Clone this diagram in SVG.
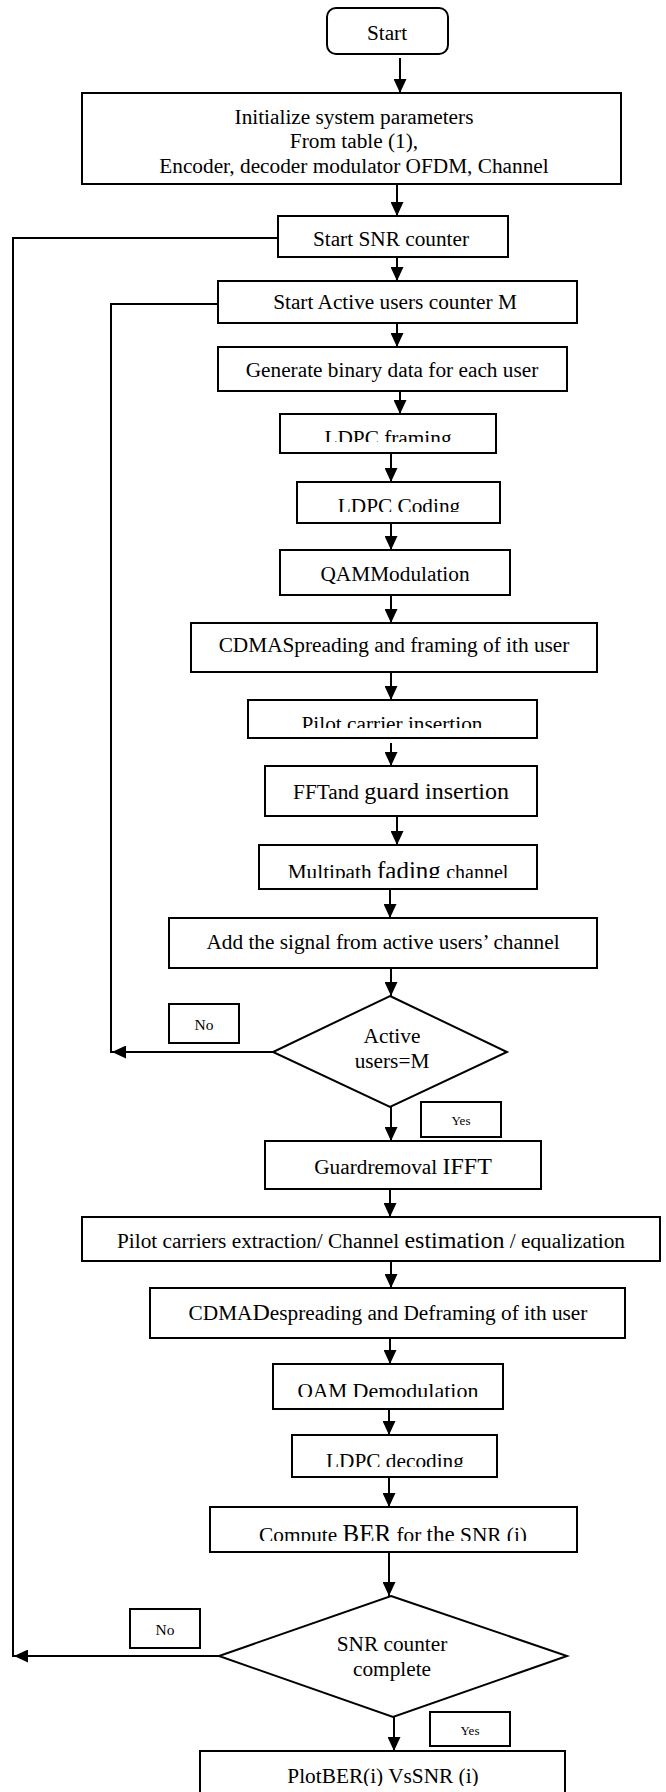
<svg xmlns="http://www.w3.org/2000/svg" width="666" height="1792" viewBox="0 0 666 1792">
<style>
.b{fill:#fff;stroke:#000;stroke-width:2}
.t{font-family:"Liberation Serif","Times New Roman",serif;font-size:21.3px;fill:#000;text-anchor:middle}
.s{font-size:15.5px}
.y{font-size:13px}
.c{fill:none;stroke:#000;stroke-width:2}
</style>
<defs>
<marker id="ah" markerUnits="userSpaceOnUse" markerWidth="14" markerHeight="13" refX="14" refY="6.5" orient="auto">
<path d="M0,0 L14,6.5 L0,13 z" fill="#000"/>
</marker>
<clipPath id="k1"><rect x="270" y="410" width="240" height="32"/></clipPath>
<clipPath id="k2"><rect x="290" y="478" width="220" height="34"/></clipPath>
<clipPath id="k3"><rect x="240" y="696" width="300" height="32"/></clipPath>
<clipPath id="k4"><rect x="250" y="840" width="290" height="38"/></clipPath>
<clipPath id="k5"><rect x="80" y="1214" width="590" height="37"/></clipPath>
<clipPath id="k6"><rect x="270" y="1360" width="240" height="37"/></clipPath>
<clipPath id="k7"><rect x="290" y="1430" width="210" height="37"/></clipPath>
<clipPath id="k8"><rect x="205" y="1504" width="375" height="37"/></clipPath>
<clipPath id="k9"><rect x="195" y="1748" width="375" height="38"/></clipPath>
</defs>

<g id="connectors">
<line class="c" x1="400" y1="58" x2="400" y2="93" marker-end="url(#ah)"/>
<line class="c" x1="397" y1="184" x2="397" y2="216" marker-end="url(#ah)"/>
<polyline class="c" points="278,238 13,238 13,1657"/>
<line class="c" x1="397" y1="257" x2="397" y2="281" marker-end="url(#ah)"/>
<polyline class="c" points="218,304 111,304 111,1053"/>
<line class="c" x1="397" y1="323" x2="397" y2="347" marker-end="url(#ah)"/>
<line class="c" x1="400" y1="389" x2="400" y2="414" marker-end="url(#ah)"/>
<line class="c" x1="391" y1="453" x2="391" y2="482" marker-end="url(#ah)"/>
<line class="c" x1="391" y1="523" x2="391" y2="550" marker-end="url(#ah)"/>
<line class="c" x1="391" y1="595" x2="391" y2="623" marker-end="url(#ah)"/>
<line class="c" x1="391" y1="672" x2="391" y2="700" marker-end="url(#ah)"/>
<line class="c" x1="391" y1="743" x2="391" y2="766" marker-end="url(#ah)"/>
<line class="c" x1="397" y1="816" x2="397" y2="845" marker-end="url(#ah)"/>
<line class="c" x1="390" y1="889" x2="390" y2="918" marker-end="url(#ah)"/>
<line class="c" x1="391" y1="968" x2="391" y2="996" marker-end="url(#ah)"/>
<line class="c" x1="273" y1="1052" x2="112" y2="1052" marker-end="url(#ah)"/>
<line class="c" x1="391" y1="1107" x2="391" y2="1141" marker-end="url(#ah)"/>
<line class="c" x1="390" y1="1189" x2="390" y2="1217" marker-end="url(#ah)"/>
<line class="c" x1="391" y1="1261" x2="391" y2="1288" marker-end="url(#ah)"/>
<line class="c" x1="390" y1="1338" x2="390" y2="1364" marker-end="url(#ah)"/>
<line class="c" x1="389" y1="1409" x2="389" y2="1435" marker-end="url(#ah)"/>
<line class="c" x1="389" y1="1477" x2="389" y2="1507" marker-end="url(#ah)"/>
<line class="c" x1="389" y1="1549" x2="389" y2="1596" marker-end="url(#ah)"/>
<line class="c" x1="219" y1="1656" x2="14" y2="1656" marker-end="url(#ah)"/>
<line class="c" x1="394" y1="1717" x2="394" y2="1751" marker-end="url(#ah)"/>
</g>

<text class="t" x="-7" y="620">n</text>

<g id="start"><rect class="b" x="327" y="8" width="121" height="46" rx="9"/><text class="t" x="387" y="40">Start</text></g>
<g id="init"><rect class="b" x="82" y="93" width="539" height="91"/>
<text class="t" x="354" y="124">Initialize system parameters</text>
<text class="t" x="354" y="148">From table (1),</text>
<text class="t" x="354" y="173">Encoder, decoder modulator OFDM, Channel</text></g>
<g id="snr"><rect class="b" x="278" y="216" width="230" height="41"/><text class="t" x="391" y="246">Start SNR counter</text></g>
<g id="active"><rect class="b" x="218" y="281" width="359" height="42"/><text class="t" x="395" y="309">Start Active users counter M</text></g>
<g id="gen"><rect class="b" x="218" y="347" width="349" height="44"/><text class="t" x="392" y="377">Generate binary data for each user</text></g>
<g id="ldpcf"><rect class="b" x="280" y="414" width="216" height="39"/><text class="t" x="388" y="445" clip-path="url(#k1)">LDPC framing</text></g>
<g id="ldpcc"><rect class="b" x="297" y="482" width="203" height="41"/><text class="t" x="399" y="513" clip-path="url(#k2)">LDPC Coding</text></g>
<g id="qam"><rect class="b" x="280" y="550" width="230" height="45"/><text class="t" x="395" y="581">QAMModulation</text></g>
<g id="cdmas"><rect class="b" x="191" y="623" width="406" height="49"/><text class="t" x="394" y="652">CDMASpreading and framing of ith user</text></g>
<g id="pilot"><rect class="b" x="248" y="700" width="289" height="38"/><text class="t" x="392" y="731" clip-path="url(#k3)">Pilot carrier insertion</text></g>
<g id="fft"><rect class="b" x="265" y="766" width="272" height="50"/><text class="t" x="401" y="799">FFTand <tspan style="font-size:24px">guard insertion</tspan></text></g>
<g id="multipath"><rect class="b" x="259" y="845" width="278" height="44"/><text class="t" x="398" y="879" clip-path="url(#k4)">Multipath <tspan style="font-size:25px">fading</tspan> <tspan style="font-size:20px">channel</tspan></text></g>
<g id="add"><rect class="b" x="169" y="918" width="428" height="50"/><text class="t" x="383" y="949">Add the signal from active users’ channel</text></g>
<g id="dec1"><polygon class="b" points="390,996 507,1052 390,1107 273,1052"/>
<text class="t" x="392" y="1043">Active</text><text class="t" x="392" y="1068">users=M</text></g>
<g id="no1"><rect class="b" x="169" y="1004" width="70" height="39"/><text class="t s" x="204" y="1030">No</text></g>
<g id="yes1"><rect class="b" x="421" y="1102" width="80" height="35"/><text class="t y" x="461" y="1125">Yes</text></g>
<g id="guard"><rect class="b" x="265" y="1141" width="276" height="48"/><text class="t" x="403" y="1174">Guardremoval <tspan style="font-size:24px">IFFT</tspan></text></g>
<g id="pilotx"><rect class="b" x="82" y="1217" width="578" height="44"/><text class="t" x="371" y="1248" clip-path="url(#k5)">Pilot carriers extraction/ Channel <tspan style="font-size:24px">estimation</tspan> / equalization</text></g>
<g id="cdmad"><rect class="b" x="150" y="1288" width="475" height="50"/><text class="t" x="388" y="1320">CDMA<tspan style="font-size:24px">D</tspan>espreading and Deframing of ith user</text></g>
<g id="qamd"><rect class="b" x="273" y="1364" width="230" height="45"/><text class="t" x="388" y="1398" clip-path="url(#k6)">QAM <tspan style="font-size:22px">Demodulation</tspan></text></g>
<g id="ldpcd"><rect class="b" x="292" y="1435" width="205" height="42"/><text class="t" x="395" y="1468" clip-path="url(#k7)">LDPC decoding</text></g>
<g id="ber"><rect class="b" x="210" y="1507" width="367" height="45"/><text class="t" x="393" y="1542" clip-path="url(#k8)">Compute <tspan style="font-size:25px">BER</tspan> for <tspan style="font-size:23px">the</tspan> SNR (i)</text></g>
<g id="dec2"><polygon class="b" points="391,1596 567,1656 393,1717 219,1656"/>
<text class="t" x="392" y="1651">SNR counter</text><text class="t" x="392" y="1676">complete</text></g>
<g id="no2"><rect class="b" x="130" y="1609" width="70" height="39"/><text class="t s" x="165" y="1635">No</text></g>
<g id="yes2"><rect class="b" x="430" y="1712" width="80" height="34"/><text class="t y" x="470" y="1735">Yes</text></g>
<g id="plot"><rect class="b" x="200" y="1751" width="365" height="60"/><text class="t" x="383" y="1783" clip-path="url(#k9)">PlotBER(i) VsSNR (i)</text></g>
</svg>
